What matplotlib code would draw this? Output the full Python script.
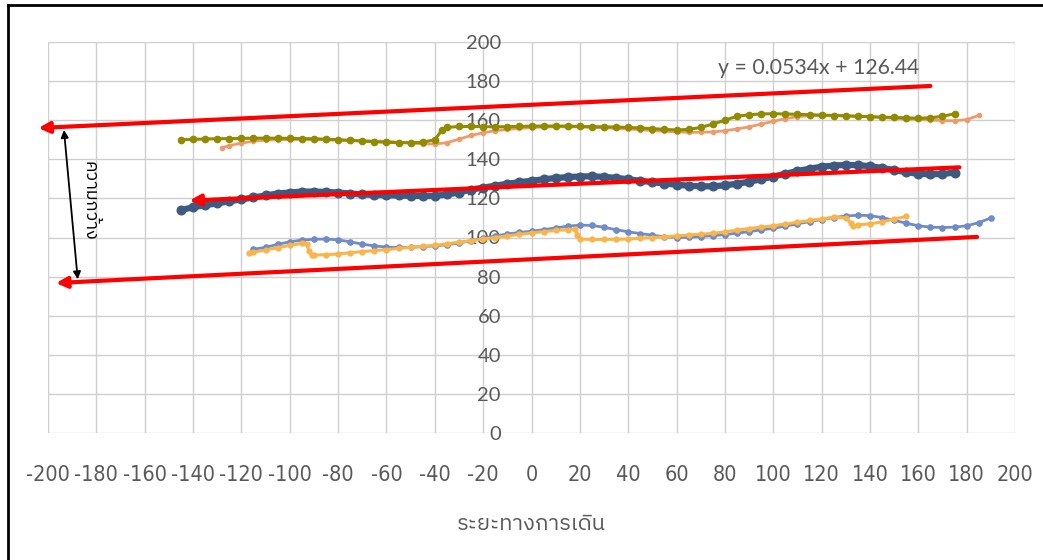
import matplotlib
matplotlib.use("Agg")
import matplotlib.pyplot as plt
from matplotlib import font_manager
from matplotlib.ft2font import FT2Font
from matplotlib.lines import Line2D

# ---- fonts ---------------------------------------------------------------
def find_thai_font():
    best = None
    for f in font_manager.fontManager.ttflist:
        try:
            if FT2Font(f.fname).get_char_index(0x0E01):
                if "thai" in f.name.lower():
                    return f.name
                best = best or f.name
        except Exception:
            pass
    return best

THAI = find_thai_font()
THAI_FAM = [THAI, "DejaVu Sans"] if THAI else ["DejaVu Sans"]
NUM_FONT = "Lato"
GREY = "#595959"

# ---- data ----------------------------------------------------------------
x_olive = [-145, -140, -135, -130, -125, -120, -115, -110, -105, -100, -95, -90,
           -85, -80, -75, -70, -65, -60, -55, -50, -45, -40, -37, -35, -30, -25,
           -20, -15, -10, -5, 0, 5, 10, 15, 20, 25, 30, 35, 40, 45, 50, 55, 60,
           65, 70, 75, 80, 85, 90, 95, 100, 105, 110, 115, 120, 125, 130, 135,
           140, 145, 150, 155, 160, 165, 170, 175]
y_olive = [150, 150.2, 150.4, 150.5, 150.6, 150.7, 150.8, 150.8, 150.8, 150.7,
           150.6, 150.5, 150.3, 150, 149.7, 149.3, 149, 148.7, 148.5, 148.5,
           148.7, 150, 155, 156.3, 156.8, 156.8, 156.7, 156.6, 156.7, 156.8, 157,
           157, 157, 157, 156.8, 156.7, 156.6, 156.5, 156.3, 156, 155.7, 155.3,
           155, 155.3, 156.3, 158, 160, 162, 162.8, 163.2, 163.3, 163.2, 163,
           162.8, 162.6, 162.4, 162.2, 162, 161.8, 161.6, 161.4, 161.2, 161,
           161.2, 162, 163.3]

x_salmon = [-128, -125, -120, -115, -110, -105, -100, -95, -90, -85, -80, -75,
            -70, -65, -60, -55, -50, -45, -40, -35, -30, -25, -20, -15, -10, -5,
            0, 5, 10, 15, 20, 25, 30, 35, 40, 45, 50, 55, 60, 65, 70, 75, 80, 85,
            90, 95, 100, 105, 110, 115, 120, 125, 130, 135, 140, 145, 150, 155,
            160, 165, 170, 175, 180, 185]
y_salmon = [146, 147, 148.3, 149.3, 149.8, 150, 150.1, 150.1, 150, 149.9, 149.8,
            149.6, 149.5, 149.4, 149.2, 148.8, 148.3, 147.9, 147.8, 148.5, 150.3,
            152.2, 153.6, 154.6, 155.3, 155.8, 156.2, 156.5, 156.6, 156.6, 156.5,
            156.3, 156.1, 155.8, 155.5, 155.1, 154.7, 154.3, 154, 153.8, 153.8,
            154, 154.6, 155.5, 156.6, 158, 159.4, 160.8, 161.8, 162.3, 162.5,
            162.5, 162.3, 162, 161.7, 161.3, 161, 160.7, 160.4, 160.1, 159.8,
            159.7, 160.3, 162.5]

x_navy = [-145, -140, -135, -130, -125, -120, -115, -110, -105, -100, -95, -90,
          -85, -80, -75, -70, -65, -60, -55, -50, -45, -40, -35, -30, -25, -20,
          -15, -10, -5, 0, 5, 10, 15, 20, 25, 30, 35, 40, 45, 50, 55, 60, 65,
          70, 75, 80, 85, 90, 95, 100, 105, 110, 115, 120, 125, 130, 135, 140,
          145, 150, 155, 160, 165, 170, 175]
y_navy = [114, 115.5, 116.5, 117.5, 118.5, 119.5, 120.5, 121.5, 122.5, 123,
          123.5, 123.5, 123.3, 123, 122.5, 122, 121.8, 121.6, 121.5, 121.3, 121.2,
          121.3, 122, 123, 124.5, 125.5, 126.5, 127.5, 128.3, 129, 129.8, 130.4,
          130.9, 131.2, 131.3, 131, 130.5, 129.8, 129, 128.3, 127.6, 127, 126.5,
          126.2, 126.2, 126.7, 127.5, 128.5, 129.8, 131.2, 132.6, 134, 135.2,
          136.2, 136.8, 137.1, 137, 136.5, 135.6, 134.5, 133.4, 132.6, 132.3,
          132.5, 133.2]

x_blue = [-115, -110, -105, -100, -95, -90, -85, -80, -75, -70, -65, -60, -55,
          -50, -45, -40, -35, -30, -25, -20, -15, -10, -5, 0, 5, 10, 15, 20, 25,
          30, 35, 40, 45, 50, 55, 60, 65, 70, 75, 80, 85, 90, 95, 100, 105, 110,
          115, 120, 125, 130, 135, 140, 145, 150, 155, 160, 165, 170, 175, 180,
          185, 190]
y_blue = [94, 95, 96.5, 97.8, 98.7, 99.1, 99.2, 98.8, 97.8, 96.6, 95.7, 95.1,
          94.9, 95, 95.3, 95.7, 96.3, 97.2, 98.3, 99.6, 100.8, 101.8, 102.6, 103.2,
          104, 104.9, 105.8, 106.3, 106.2, 105.2, 104, 102.9, 102, 101.2, 100.4,
          100, 100.1, 100.5, 101, 101.5, 102.2, 103, 103.9, 104.7, 105.8, 107,
          108.1, 109.2, 110.2, 111, 111.4, 111.2, 110.2, 108.8, 107.3, 106, 105.3,
          105.1, 105.3, 106, 107.6, 110]

x_amber = [-117, -115, -110, -105, -100, -95, -93, -92, -91, -90, -85, -80, -75,
           -70, -65, -60, -55, -50, -45, -40, -35, -30, -25, -20, -15, -10, -5, 0,
           5, 10, 15, 18, 19, 20, 25, 30, 35, 40, 45, 50, 55, 60, 65, 70, 75, 80,
           85, 90, 95, 100, 105, 110, 115, 120, 125, 130, 132, 133, 135, 140, 145,
           150, 155]
y_amber = [92, 92.5, 93.6, 94.8, 96, 97, 96.5, 93, 91.2, 91, 91.2, 91.6, 92.2,
           92.8, 93.3, 93.8, 94.4, 95, 95.5, 96, 96.8, 97.6, 98.4, 99.2, 100,
           100.8, 101.6, 102.3, 103, 103.6, 104, 104.2, 101.5, 99.2, 99, 99, 99.1,
           99.2, 99.6, 100, 100.4, 100.8, 101.3, 101.7, 102.1, 102.9, 103.8,
           104.6, 105.3, 106, 106.9, 107.8, 108.7, 109.5, 110.4, 110, 107.5, 106,
           106.4, 107, 108, 109.4, 110.8]

# trendline of the middle series
trend_slope = 0.0534
trend_intercept = 126.44
trend_x = [177, -141.5]

# upper and lower envelope lines (start, arrow tip)
upper_x = [165, -204]
upper_y = [177.5, 156]
lower_x = [184.3, -196.7]
lower_y = [100.3, 76.7]

# width marker
width_x = [-193.4, -187.7]
width_y = [155, 78.6]
width_label = "ความกว้าง"

x_ticks = list(range(-200, 201, 20))
y_ticks = list(range(0, 201, 20))
x_title = "ระยะทางการเดิน"
equation = f"y = {trend_slope}x + {trend_intercept}"

# ---- figure --------------------------------------------------------------
W, H, DPI = 1043, 560, 100
fig = plt.figure(figsize=(W / DPI, H / DPI), dpi=DPI)
ax = fig.add_axes([48 / W, 1 - 433 / H, 967 / W, 391 / H])
ax.set_xlim(-200, 200)
ax.set_ylim(0, 200)

# vertical axis crosses at x = 0 (the spine itself stays hidden)
for s in ax.spines.values():
    s.set_visible(False)
ax.spines["left"].set_position(("data", 0))

ax.set_xticks(x_ticks)
ax.set_yticks(y_ticks)
ax.set_xticklabels([str(v) for v in x_ticks])
ax.set_yticklabels([str(v) for v in y_ticks])
ax.tick_params(axis="y", length=0, pad=22, labelsize=14.5, labelcolor=GREY)
ax.tick_params(axis="x", length=0, pad=23, labelsize=15.5, labelcolor=GREY)
for lab in ax.get_yticklabels():
    lab.set_fontfamily(NUM_FONT)
for lab in ax.get_xticklabels():
    lab.set_fontfamily("DejaVu Sans")
    lab.set_fontstretch("condensed")
ax.grid(True, color="#CFCFCF", lw=1)
ax.set_axisbelow(True)
ax.set_xlabel(x_title, family=THAI_FAM, fontsize=15.8, color=GREY, labelpad=20)

# data series
ax.plot(x_blue, y_blue, color="#6F8CC8", lw=2, marker="o", ms=3.8, zorder=3)
ax.plot(x_amber, y_amber, color="#F9B44A", lw=2.2, marker="o", ms=3.5, zorder=4)
ax.plot(x_navy, y_navy, color="#3E5A80", lw=4.5, marker="o", ms=6.2, zorder=3)
ax.plot(x_salmon, y_salmon, color="#EE9A6A", lw=2, marker="o", ms=3, zorder=3)
ax.plot(x_olive, y_olive, color="#918B00", lw=2.2, marker="o", ms=4.5, zorder=4)

# envelope and trend lines with arrowheads at the left end
red_kw = dict(arrowstyle="-|>", color="#FF0000", lw=3, mutation_scale=16,
              shrinkA=0, shrinkB=0)
trend_y = [trend_slope * v + trend_intercept for v in trend_x]
for xs, ys in ((upper_x, upper_y), (trend_x, trend_y), (lower_x, lower_y)):
    ax.annotate("", xy=(xs[1], ys[1]), xytext=(xs[0], ys[0]),
                arrowprops=red_kw, annotation_clip=False, zorder=6)

ax.annotate("", xy=(width_x[0], width_y[0]), xytext=(width_x[1], width_y[1]),
            arrowprops=dict(arrowstyle="<|-|>", color="black", lw=1.3,
                            mutation_scale=11, shrinkA=0, shrinkB=0),
            zorder=6)
ax.text(-183, 118.7, width_label, rotation=-90, ha="center", va="center",
        family=THAI_FAM, fontsize=13, color="black", zorder=6)

ax.text(77.3, 186.7, equation, ha="left", va="center", fontfamily=NUM_FONT,
        fontsize=15.3, color=GREY, zorder=6)

# frame lines along the top and left edges of the image
fig.add_artist(Line2D([8 / W, 8 / W], [0, 1 - 5 / H], color="black", lw=2,
                      transform=fig.transFigure))
fig.add_artist(Line2D([8 / W, 1], [1 - 5 / H, 1 - 5 / H], color="black", lw=2,
                      transform=fig.transFigure))

fig.savefig("out.png", dpi=DPI)
